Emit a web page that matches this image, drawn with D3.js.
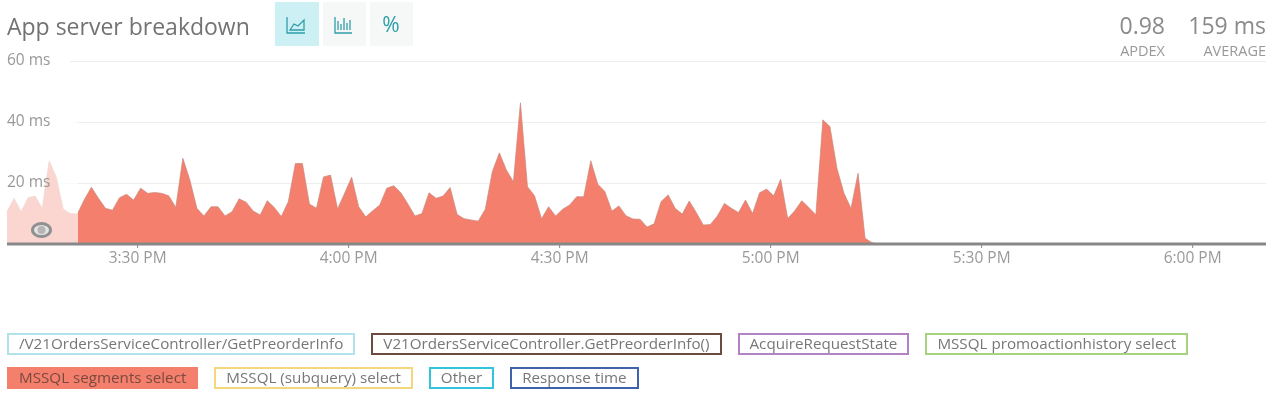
<!DOCTYPE html>
<html>
<head>
<meta charset="utf-8">
<title>App server breakdown</title>
<script src="https://cdn.jsdelivr.net/npm/d3@7"></script>
<style>
  html, body { margin: 0; background: #fff; overflow: hidden; }
  body { width: 1280px; height: 396px; position: relative; font-family: "Open Sans", sans-serif; color: #777; filter: blur(0.45px); }
  svg { position: absolute; left: 0; top: 0; }
  .axis path { display: none; }
  .axis text { font-family: "Open Sans", sans-serif; font-size: 15.5px; fill: #999; }
  .legend { position: absolute; left: 7px; top: 333px; width: 1230px; display: flex; flex-wrap: wrap; gap: 12px 16px; }
  .legend span { box-sizing: border-box; height: 22px; line-height: 17px; padding: 0 10px; border: 2px solid; font-size: 15.2px; color: #777; white-space: nowrap; }
  .legend span.on { color: #7a4a40; }
</style>
</head>
<body>
<div class="legend" id="legend"></div>
<script>
const responseMs = [
  10.6, 15, 10.6, 15.2, 15.7, 11.7, 27.3, 22, 11.4, 10, 9.8, 14.6, 18.6, 15, 11.7, 11.1,
  15.2, 16.3, 14.4, 18.3, 16.6, 16.9, 16.6, 15.8, 12, 28.1, 21, 11.7, 9.2, 12.2, 12.2, 9.2,
  10.6, 14.8, 13.7, 10.8, 9.5, 14.2, 12, 9, 13.9, 26.4, 26.4, 13.1, 11.7, 22, 22.6, 11.5,
  16.6, 21.9, 12.2, 8.9, 10.9, 12.8, 18.3, 19.1, 16.8, 13.1, 9.2, 10, 16.8, 15, 15.7, 18.5,
  9.7, 8.3, 7.9, 7.5, 11.4, 23.7, 29.9, 24.3, 20.4, 46.3, 18.8, 15.8, 8.3, 12.2, 9.2, 11.4,
  12.8, 15.5, 15.5, 27.3, 19.6, 17.2, 10.8, 12.5, 9.3, 8.2, 8.1, 5.6, 6.6, 13.9, 16.1, 11.7,
  9.8, 14.1, 10.3, 6.2, 6.4, 9.2, 13.3, 11.7, 10.3, 14.4, 10, 16.8, 18, 15.8, 21.2, 8.4,
  10.9, 14.2, 12, 9.6, 40.7, 38.5, 24.8, 16.6, 11.7, 23.2, 1.9, 0.4, 0, 0, 0, 0,
  0, 0, 0, 0, 0, 0, 0, 0, 0, 0, 0, 0, 0, 0, 0, 0,
  0, 0, 0, 0, 0, 0, 0, 0, 0, 0, 0, 0, 0, 0, 0, 0,
  0, 0, 0, 0, 0, 0, 0, 0, 0, 0, 0, 0, 0, 0, 0, 0,
  0, 0, 0, 0
];
const yTicks = [20, 40, 60];
const xTickHours = [[15, 30], [16, 0], [16, 30], [17, 0], [17, 30], [18, 0]];
const legendNames = ['/V21OrdersServiceController/GetPreorderInfo', 'V21OrdersServiceController.GetPreorderInfo()', 'AcquireRequestState', 'MSSQL promoactionhistory select', 'MSSQL segments select', 'MSSQL (subquery) select', 'Other', 'Response time'];
const legendColors = ['#b4e2ec', '#6b4a40', '#b183c4', '#a6d381', '#f37f6c', '#f4d67c', '#33c3dc', '#3e62ab'];
const legendOn = ['MSSQL segments select'];

const AREA = '#f37f6c';
const X0 = 7, X1 = 1266, BASE = 244;

const svg = d3.select('body').append('svg').attr('width', 1280).attr('height', 325);

// tijdas: eerste punt valt op 3:11:30
const startTime = new Date(2020, 0, 1, 15, 11, 30);
const points = responseMs.map((v, i) => ({ t: d3.timeMinute.offset(startTime, i), v }));

const x = d3.scaleTime().domain([startTime, points[points.length - 1].t]).range([X0, X1]);
const y = d3.scaleLinear().domain([0, 60]).range([BASE, 61]);

// rasterlijnen onder het vlak
const grid = svg.append('g').attr('class', 'axis').attr('transform', `translate(${X0},0)`)
  .call(d3.axisRight(y).tickValues(yTicks).tickSize(0).tickFormat(''));
grid.selectAll('.tick line')
  .attr('x1', d => d === 20 ? 48 : 63).attr('x2', X1 - X0)
  .attr('stroke', '#eee');

// het vlak
const area = d3.area().x(d => x(d.t)).y0(BASE).y1(d => y(d.v));
const line = d3.line().x(d => x(d.t)).y(d => y(d.v));
svg.append('path').datum(points).attr('d', area).attr('fill', AREA);
svg.append('path').datum(points).attr('d', line).attr('fill', 'none').attr('stroke', '#c98a80').attr('stroke-width', 0.7);

// deel links van de selectie is vervaagd
const sel = svg.append('g');
sel.append('rect').attr('x', X0).attr('y', 90).attr('width', 78 - X0).attr('height', BASE - 90)
  .attr('fill', '#fff').attr('fill-opacity', 0.68);
sel.append('ellipse').attr('cx', 41.5).attr('cy', 230).attr('rx', 9).attr('ry', 6.5)
  .attr('fill', '#e4e4e4').attr('stroke', '#909090').attr('stroke-width', 3);
sel.append('ellipse').attr('cx', 41.5).attr('cy', 230).attr('rx', 4).attr('ry', 4)
  .attr('fill', '#b5b5b5');

// y-labels boven de selectie
const yAxis = svg.append('g').attr('class', 'axis').attr('transform', `translate(${X0},0)`)
  .call(d3.axisRight(y).tickValues(yTicks).tickSize(0).tickPadding(0).tickFormat(d => `${d} ms`));
yAxis.selectAll('.tick line').remove();
yAxis.selectAll('.tick text').attr('dy', '0.22em');

// x-as
const xAxis = svg.append('g').attr('class', 'axis').attr('transform', `translate(0,${BASE})`)
  .call(d3.axisBottom(x)
    .tickValues(xTickHours.map(([h, m]) => new Date(2020, 0, 1, h, m)))
    .tickSize(4).tickPadding(4)
    .tickFormat(d3.timeFormat('%-I:%M %p')));
xAxis.selectAll('.tick line').attr('stroke', '#888');
svg.append('line').attr('x1', X0).attr('x2', X1).attr('y1', BASE).attr('y2', BASE)
  .attr('stroke', '#888').attr('stroke-width', 3);

// titel
svg.append('text').attr('x', 7).attr('y', 35).attr('font-size', 23).attr('fill', '#737373').text('App server breakdown');

// knoppen
const btns = [[275, 44, '#cdf0f4'], [323, 43, '#f6f7f7'], [370, 43, '#f6f7f7']];
svg.selectAll('rect.btn').data(btns).join('rect').attr('class', 'btn')
  .attr('x', d => d[0]).attr('y', 2).attr('width', d => d[1]).attr('height', 44).attr('fill', d => d[2]);
const TEAL = '#2e9fa8';
svg.append('path').attr('fill', 'none').attr('stroke', TEAL).attr('stroke-width', 1.3)
  .attr('d', 'M287 17V33H305M290 30L294 24L298 26L304 20V30Z');
svg.append('path').attr('fill', 'none').attr('stroke', TEAL).attr('stroke-width', 1.3)
  .attr('d', 'M335 17V33H352M338 30V21M341 30V24M344 30V18M347 30V23M350 30V20');
svg.append('text').attr('x', 391).attr('y', 32).attr('text-anchor', 'middle').attr('font-size', 21)
  .attr('fill', TEAL).text('%');

// kengetallen rechtsboven
const stats = [[1165, '0.98', 'APDEX'], [1266, '159 ms', 'AVERAGE']];
stats.forEach(([rx, big, small]) => {
  svg.append('text').attr('x', rx).attr('y', 33.8).attr('text-anchor', 'end').attr('font-size', 23).attr('fill', '#8a8a8a').text(big);
  svg.append('text').attr('x', rx).attr('y', 56).attr('text-anchor', 'end').attr('font-size', 14.5).attr('fill', '#999').text(small);
});

// legenda
d3.select('#legend').selectAll('span').data(legendNames).join('span')
  .classed('on', d => legendOn.includes(d))
  .style('border-color', (d, i) => legendColors[i])
  .style('background', (d, i) => legendOn.includes(d) ? legendColors[i] : '#fff')
  .text(d => d);
</script>
</body>
</html>
